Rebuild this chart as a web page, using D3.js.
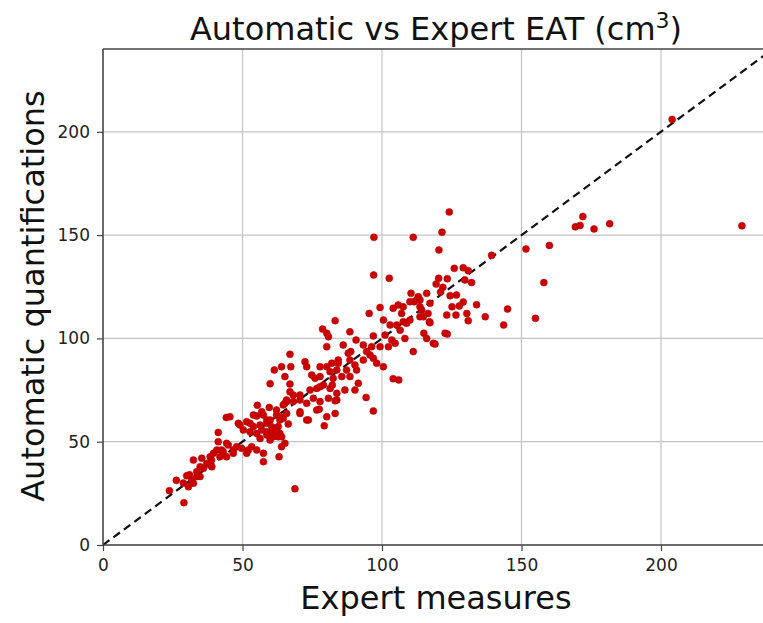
<!DOCTYPE html>
<html>
<head>
<meta charset="utf-8">
<script src="https://cdn.jsdelivr.net/npm/d3@7"></script>
<style>
  body { margin: 0; background: #fff; }
  svg { display: block; font-family: "DejaVu Sans", sans-serif; }
</style>
</head>
<body>
<script>
// expert (x) vs automatic (y) values
var expert = [23.8, 29, 26.3, 28.8, 30, 31.8, 32.4, 30.6, 33.6, 31, 34.8, 33.6, 36, 34.8, 32.4, 35.4, 37.2, 39, 38.4, 38.9,
  39.6, 40.8, 41.9, 42.5, 43.1, 44.3, 44.9, 41.3, 44.3, 46.7, 46.7, 47.9, 49.7, 41.3, 52.1, 53.3, 51.5, 55.1, 57.5, 57.5,
  63.1, 64, 65.2, 59.9, 61, 64, 56.3, 59.3, 52.7, 55.1, 58.7, 50.3, 53.9, 56.3, 58.7, 48.5, 49.1, 51.5, 55.1, 57.5,
  58.7, 62.2, 64.6, 62.8, 66.4, 61, 63.4, 44.2, 45.5, 55.3, 59.6, 65.8, 68.8, 63.4, 65.8, 65.2, 68.2, 70.6, 73, 76.6,
  80.2, 83.8, 79.3, 83.2, 64.6, 62.2, 63.5, 59.9, 56.9, 53.9, 60.5, 56.9, 52.7, 58.7, 62.2, 62.8, 80.2, 80.8, 80.2, 86.1,
  87.9, 67, 61.4, 64, 67.3, 72.4, 73, 77.8, 80.2, 84.3, 83.8, 65.2, 74.8, 76, 59.9, 67, 67, 77.8, 81.4, 82.5,
  85.6, 87.3, 90.9, 88.5, 91.5, 79, 76.6, 81.4, 83.8, 86.7, 90.3, 68.2, 65.8, 70.6, 73, 75.4, 77.8, 80.8, 83.2, 70.6,
  73.6, 77.5, 70.6, 74.2, 77.8, 82.2, 97, 102.6, 110.4, 113, 111.5, 116, 105.8, 104, 107.6, 110, 99.3, 100.5, 95.4, 83.2,
  107, 107.6, 105.3, 102.9, 110, 113.6, 117, 115, 116, 122.6, 123.4, 118.4, 88.5, 90.7, 88.8, 93.3, 96.9, 96.3, 99.3, 95.7,
  101.1, 103.5, 102.3, 104.7, 108.2, 111.2, 94.5, 96.9, 93.3, 98.1, 84.3, 82, 88.5, 90.3, 100.5, 97.1, 111.2, 78.7, 96.9, 94.3,
  104, 106, 114.8, 108.8, 106.5, 119, 112.4, 117.2, 113.6, 124.1, 121.5, 120.4, 151.6, 139.3, 125.9, 129.1, 130.9, 129.7, 132.1, 120.3,
  123.4, 119.4, 121.8, 121, 124.4, 113.6, 114.2, 129.1, 127.7, 125.1, 126.5, 123.2, 133.9, 116.5, 117.2, 130.9, 137, 126.7, 130.4, 204,
  229, 172, 169.3, 171, 176, 181.6, 160, 158, 155, 145, 143.6];
var automatic = [26.3, 20.5, 31.3, 30, 33.5, 31.5, 29.9, 28.2, 33.1, 34, 33.1, 35.5, 37.1, 37.9, 41.1, 42, 39.5, 37.9, 42.7, 41.1,
  44.4, 46, 42.7, 46, 45.2, 42.7, 48.4, 50, 49.2, 44.4, 46, 47.6, 46.8, 54.5, 46, 47.6, 44.4, 46, 44.4, 40.3,
  42.7, 47.6, 49.2, 50.8, 52.4, 52.4, 51.6, 54, 54.8, 54, 54.8, 55.7, 57.3, 58.1, 58.9, 58.9, 58.1, 59.7, 62.4, 62.9,
  60.5, 62.9, 61.3, 57.3, 58.6, 55.7, 54, 61.7, 62.1, 67.6, 66.6, 69.4, 27.2, 60.5, 63.7, 68.6, 69.4, 63.7, 60.5, 65.3,
  62.1, 70.2, 57.7, 63.7, 67.8, 65.3, 62.1, 60.5, 64.5, 62.9, 57.2, 55.7, 58.9, 53.2, 54.9, 52.4, 102.5, 100.8, 96, 96.8,
  92.8, 92.3, 84.7, 86.3, 86.3, 88.7, 86.3, 86.3, 86.3, 88, 84.7, 81.5, 82.3, 80.7, 78.1, 77.9, 74.2, 81.5, 83.9, 80.7,
  81.5, 84.7, 84.7, 81.5, 78.3, 77.4, 75.8, 75.8, 73.4, 75, 75, 72.6, 70.2, 70.2, 68.6, 71, 69.4, 71, 69.8, 64.5,
  60.5, 65.7, 72.6, 75, 76.6, 77.4, 130.7, 129.1, 121.8, 120.2, 117.8, 121.8, 116.2, 114.6, 115.3, 117.8, 115, 108.9, 112.1, 108.6,
  112.1, 108.1, 106.5, 106.5, 108.9, 110.5, 108.1, 102.5, 100, 102.5, 102.1, 97.6, 103.2, 99.2, 93.6, 96.8, 101.2, 96, 96, 92,
  101.6, 99.2, 96, 97.6, 100, 93.6, 93.6, 90.4, 89.5, 88, 89.5, 88, 89.5, 87.1, 86.3, 148.9, 148.9, 104.5, 64.9, 71.4,
  80.5, 79.9, 110.5, 107.3, 104, 97.3, 118.6, 117, 115.3, 161.2, 151.4, 142.8, 143.3, 140.2, 133.9, 134.2, 132.8, 128.3, 127, 129.1,
  128.9, 126.3, 124.7, 122.5, 120.7, 118.6, 113.7, 117.6, 115.7, 115.3, 111.3, 111.3, 116.3, 112.1, 107.6, 108.6, 110.5, 121, 112.1, 206,
  154.5, 159, 154, 154.7, 153, 155.5, 145, 127, 109.7, 114.2, 106.5];
var xTicks = [0, 50, 100, 150, 200];
var yTicks = [0, 50, 100, 150, 200];

var W = 763, H = 623;
var m = {left: 103, top: 49, bottom: 545};
var pxPerUnitX = 2.79, pxPerUnitY = 2.066;

var x = d3.scaleLinear().domain([0, 240]).range([m.left, m.left + 240 * pxPerUnitX]);
var y = d3.scaleLinear().domain([0, 240]).range([m.bottom, m.bottom - 240 * pxPerUnitY]);

var svg = d3.select("body").append("svg").attr("width", W).attr("height", H);

svg.append("defs").append("clipPath").attr("id", "plot")
  .append("rect").attr("x", m.left).attr("y", m.top)
  .attr("width", W - m.left).attr("height", m.bottom - m.top);

// grid
svg.append("g").selectAll("line").data(xTicks).enter().append("line")
  .attr("x1", d => x(d)).attr("x2", d => x(d)).attr("y1", m.top).attr("y2", m.bottom)
  .attr("stroke", "#c4c4c4").attr("stroke-width", 1.2);
svg.append("g").selectAll("line").data(yTicks).enter().append("line")
  .attr("x1", m.left).attr("x2", W).attr("y1", d => y(d)).attr("y2", d => y(d))
  .attr("stroke", "#c4c4c4").attr("stroke-width", 1.2);

// identity line
svg.append("line").attr("clip-path", "url(#plot)")
  .attr("x1", x(0)).attr("y1", y(0)).attr("x2", x(240)).attr("y2", y(240))
  .attr("stroke", "#111").attr("stroke-width", 2.2).attr("stroke-dasharray", "8,5");

// points
svg.append("g").attr("clip-path", "url(#plot)").selectAll("circle")
  .data(d3.range(expert.length)).enter().append("circle")
  .attr("cx", i => x(expert[i])).attr("cy", i => y(automatic[i])).attr("r", 3.5)
  .attr("fill", "#cc0000").attr("stroke", "#b00000").attr("stroke-width", 0.5);

// axes
var xAxis = svg.append("g").attr("transform", "translate(0," + m.bottom + ")")
  .call(d3.axisBottom(x).tickValues(xTicks).tickSize(6).tickPadding(8));
var yAxis = svg.append("g").attr("transform", "translate(" + m.left + ",0)")
  .call(d3.axisLeft(y).tickValues(yTicks).tickSize(6).tickPadding(7));
[xAxis, yAxis].forEach(function(a) {
  a.select(".domain").remove();
  a.selectAll("line").attr("stroke", "#444").attr("stroke-width", 1.2);
  a.selectAll("text").attr("font-size", 17).attr("fill", "#222").attr("font-family", "DejaVu Sans");
});

// spines (left, top, bottom)
svg.append("line").attr("x1", m.left).attr("x2", m.left).attr("y1", m.top).attr("y2", m.bottom)
  .attr("stroke", "#444").attr("stroke-width", 1.5);
svg.append("line").attr("x1", m.left).attr("x2", W).attr("y1", m.top).attr("y2", m.top)
  .attr("stroke", "#444").attr("stroke-width", 1.5);
svg.append("line").attr("x1", m.left).attr("x2", W).attr("y1", m.bottom).attr("y2", m.bottom)
  .attr("stroke", "#444").attr("stroke-width", 1.5);

// titles
var title = svg.append("text").attr("x", 436).attr("y", 40).attr("text-anchor", "middle")
  .attr("font-size", 32).attr("fill", "#111");
title.append("tspan").text("Automatic vs Expert EAT (cm");
title.append("tspan").attr("font-size", 22).attr("dy", -12).text("3");
title.append("tspan").attr("dy", 12).text(")");

svg.append("text").attr("x", 436).attr("y", 609).attr("text-anchor", "middle")
  .attr("font-size", 32).attr("fill", "#111").text("Expert measures");

svg.append("text").attr("transform", "translate(44,296) rotate(-90)").attr("text-anchor", "middle")
  .attr("font-size", 32).attr("fill", "#111").text("Automatic quantifications");
</script>
</body>
</html>
